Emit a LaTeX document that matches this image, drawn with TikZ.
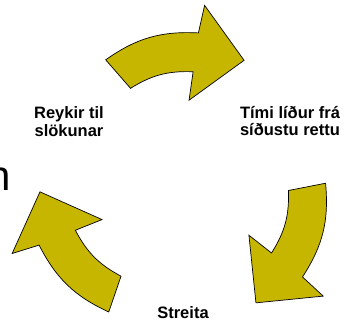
\documentclass[tikz,border=0pt]{standalone}
\usepackage{fontspec}
\setmainfont{Liberation Sans}
\usetikzlibrary{positioning}
\definecolor{arrowolive}{RGB}{198,182,0}
\tikzset{
  cyclearrow/.style={draw=black,fill=arrowolive,line width=0.7pt,line join=miter},
  stage/.style={align=center,inner sep=0pt,
                font=\bfseries\fontsize{16.5}{17.5}\selectfont},
  bigletter/.style={inner sep=0pt,font=\fontsize{42}{48}\selectfont},
}
\begin{document}
\begin{tikzpicture}[x=1pt,y=1pt]
  \useasboundingbox (0,0) rectangle (344,322);
  \coordinate (mid) at (180,137);

  % three curved arrows, one every 120 degrees
  \foreach \turn in {0,-120,-240}{
    \begin{scope}[shift={(mid)},rotate=\turn]
      \draw[cyclearrow]
        (120.7:145.6) to[bend left=19] (83.1:153.2)
        -- (82.2:181.3) -- (62.8:140.2) -- (83.9:85.3) -- (83.4:114)
        to[bend right=17] (117.1:108.6) -- cycle;
    \end{scope}
  }

  \node[stage,anchor=base] (smoke)  at (69,186)    {Reykir til\\slökunar};
  \node[stage,anchor=base] (time)   at (290,186.5) {Tími líður frá\\síðustu rettu};
  \node[stage,anchor=base] (stress) at (183,3.7)   {Streita};

  \begin{scope}
    \clip (0,0) rectangle (344,322);
    \node[bigletter,anchor=base east] (cutoff) at (10.8,132) {n};
  \end{scope}
\end{tikzpicture}
\end{document}
